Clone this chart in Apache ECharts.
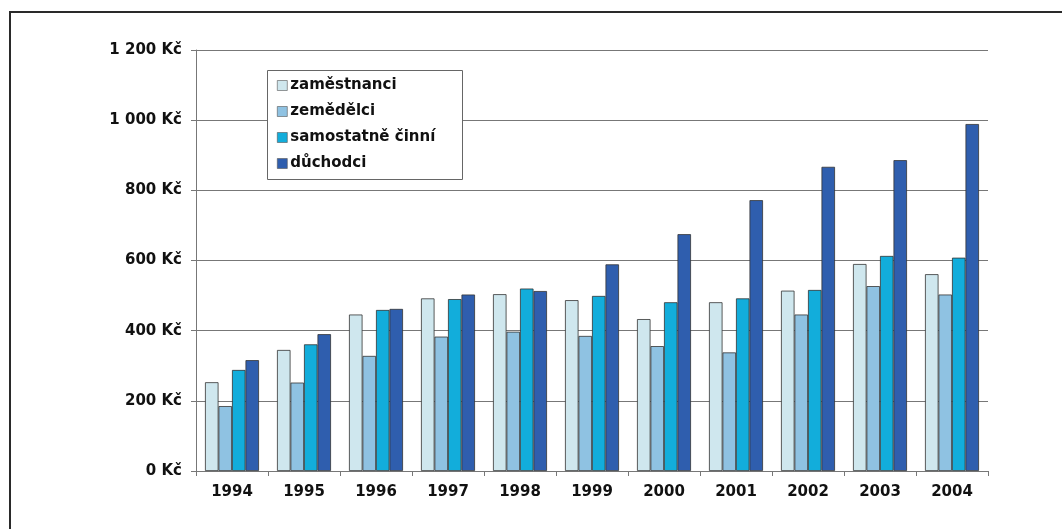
<!DOCTYPE html>
<html>
<head>
<meta charset="utf-8">
<script src="https://cdn.jsdelivr.net/npm/echarts@6/dist/echarts.min.js"></script>
<style>
  html, body { margin: 0; padding: 0; background: #fff; }
  #chart { width: 1062px; height: 529px; }
</style>
</head>
<body>
<div id="chart"></div>
<script>
// Years on the category axis
const years = ['1994', '1995', '1996', '1997', '1998', '1999', '2000', '2001', '2002', '2003', '2004'];

// Series names
const seriesNames = ['zaměstnanci', 'zemědělci', 'samostatně činní', 'důchodci'];

// Amounts in Kč per group and year
const zamestnanci = [253, 345, 446, 492, 504, 487, 433, 481, 514, 590, 561];
const zemedelci   = [185, 252, 328, 383, 397, 385, 356, 338, 446, 527, 503];
const samostatne  = [288, 361, 459, 490, 520, 499, 481, 492, 516, 613, 608];
const duchodci    = [316, 390, 462, 503, 513, 589, 675, 772, 867, 886, 989];

// Value axis ticks
const yMin = 0, yMax = 1200, yStep = 200;

const colors = ['#cfe7ee', '#8fc2e2', '#12addb', '#2f5eae'];
const font = 'DejaVu Sans, Verdana, sans-serif';

const formatKc = v => {
  const s = String(v).replace(/\B(?=(\d{3})+(?!\d))/g, ' ');
  return s + ' Kč';
};

const chart = echarts.init(document.getElementById('chart'), null, { renderer: 'canvas' });

const seriesData = [zamestnanci, zemedelci, samostatne, duchodci];

chart.setOption({
  animation: false,
  backgroundColor: '#fff',
  color: colors,
  grid: { left: 196, right: 74, top: 50, bottom: 58, containLabel: false },
  graphic: [
    {
      type: 'rect', z: -10, silent: true,
      shape: { x: 10, y: 12, width: 1100, height: 600 },
      style: { fill: '#fff', stroke: '#2a2a2a', lineWidth: 2 }
    },
    {
      type: 'rect', z: 50, silent: true,
      shape: { x: 267.5, y: 70.5, width: 195, height: 109 },
      style: { fill: '#fff', stroke: '#666', lineWidth: 1 }
    }
  ],
  legend: {
    orient: 'vertical',
    left: 272, top: 73,
    itemWidth: 10, itemHeight: 10,
    itemGap: 11,
    z: 60,
    icon: 'rect',
    itemStyle: { borderColor: '#555', borderWidth: 0.6 },
    textStyle: { fontFamily: font, fontWeight: 'bold', fontSize: 15, color: '#111', padding: [0, 0, 0, -2] },
    data: seriesNames
  },
  xAxis: {
    type: 'category',
    data: years,
    axisLine: { lineStyle: { color: '#777', width: 1 } },
    axisTick: { show: true, length: 5, lineStyle: { color: '#777' } },
    axisLabel: { margin: 14, fontFamily: font, fontWeight: 'bold', fontSize: 15, color: '#111' }
  },
  yAxis: {
    type: 'value',
    min: yMin, max: yMax, interval: yStep,
    axisLine: { show: true, lineStyle: { color: '#777', width: 1 } },
    axisTick: { show: true, length: 5, lineStyle: { color: '#777' } },
    splitLine: { lineStyle: { color: '#777', width: 1 } },
    axisLabel: { margin: 14, fontFamily: font, fontWeight: 'bold', fontSize: 15, color: '#111', formatter: formatKc }
  },
  series: seriesNames.map((name, i) => ({
    name,
    type: 'bar',
    data: seriesData[i],
    barGap: '0%',
    barCategoryGap: '25%',
    itemStyle: { color: colors[i], borderColor: '#333', borderWidth: 0.8 }
  }))
});
</script>
</body>
</html>
